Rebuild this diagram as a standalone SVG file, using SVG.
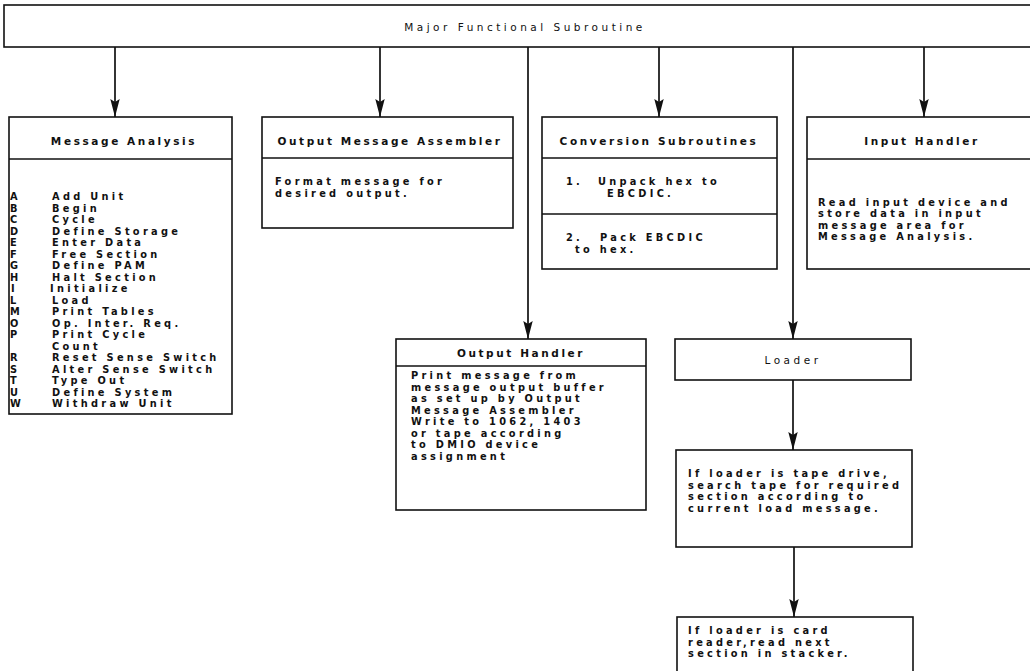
<svg xmlns="http://www.w3.org/2000/svg" width="1030" height="671" viewBox="0 0 1030 671">
<defs>
<marker id="ah" viewBox="0 0 18 10" refX="18" refY="5" markerWidth="18" markerHeight="10" markerUnits="userSpaceOnUse" orient="auto">
<path d="M0,0.3 L18,5 L0,9.7 L3,5 z" fill="#111"/>
</marker>
<style>
.box{fill:#fff;stroke:#111;stroke-width:1.6}
.sep{stroke:#111;stroke-width:1.4}
.con{fill:none;stroke:#111;stroke-width:1.7}
text{font-family:"DejaVu Sans","Liberation Sans",sans-serif;font-size:9.8px;font-weight:bold;letter-spacing:3.3px;fill:#111}
.c{text-anchor:middle;font-size:10.5px;letter-spacing:2.6px}
.n{font-weight:normal;letter-spacing:3.5px}
</style>
</defs>
<rect width="1030" height="671" fill="#fff"/>

<g id="connectors">
<line class="con" x1="115" y1="47" x2="115" y2="117" marker-end="url(#ah)"/>
<line class="con" x1="380" y1="47" x2="380" y2="117" marker-end="url(#ah)"/>
<line class="con" x1="659" y1="47" x2="659" y2="117" marker-end="url(#ah)"/>
<line class="con" x1="924" y1="47" x2="924" y2="117" marker-end="url(#ah)"/>
<line class="con" x1="528" y1="47" x2="528" y2="339" marker-end="url(#ah)"/>
<line class="con" x1="793" y1="47" x2="793" y2="339" marker-end="url(#ah)"/>
<line class="con" x1="793" y1="380" x2="793" y2="450" marker-end="url(#ah)"/>
<line class="con" x1="794" y1="547" x2="794" y2="617" marker-end="url(#ah)"/>
</g>

<g id="major">
<rect class="box" x="4" y="5" width="1030" height="42"/>
<text class="c n" x="525" y="31">Major Functional Subroutine</text>
</g>

<g id="message-analysis">
<rect class="box" x="9" y="117" width="223" height="297"/>
<line class="sep" x1="9" y1="159" x2="232" y2="159"/>
<text class="c" x="124" y="145">Message Analysis</text>
<text x="10" y="200">A</text><text x="52" y="200">Add Unit</text>
<text x="10" y="211.5">B</text><text x="52" y="211.5">Begin</text>
<text x="10" y="223">C</text><text x="52" y="223">Cycle</text>
<text x="10" y="234.5">D</text><text x="52" y="234.5">Define Storage</text>
<text x="10" y="246">E</text><text x="52" y="246">Enter Data</text>
<text x="10" y="257.5">F</text><text x="52" y="257.5">Free Section</text>
<text x="10" y="269">G</text><text x="52" y="269">Define PAM</text>
<text x="10" y="280.5">H</text><text x="52" y="280.5">Halt Section</text>
<text x="11" y="292">I</text><text x="50" y="292">Initialize</text>
<text x="10" y="303.5">L</text><text x="52" y="303.5">Load</text>
<text x="10" y="315">M</text><text x="52" y="315">Print Tables</text>
<text x="10" y="326.5">O</text><text x="52" y="326.5">Op. Inter. Req.</text>
<text x="10" y="338">P</text><text x="52" y="338">Print Cycle</text>
<text x="52" y="349.5">Count</text>
<text x="10" y="361">R</text><text x="52" y="361">Reset Sense Switch</text>
<text x="10" y="372.5">S</text><text x="52" y="372.5">Alter Sense Switch</text>
<text x="10" y="384">T</text><text x="52" y="384">Type Out</text>
<text x="10" y="395.5">U</text><text x="52" y="395.5">Define System</text>
<text x="10" y="407">W</text><text x="52" y="407">Withdraw Unit</text>
</g>

<g id="output-message-assembler">
<rect class="box" x="262" y="117" width="251" height="111"/>
<line class="sep" x1="262" y1="158" x2="513" y2="158"/>
<text class="c" x="390" y="145">Output Message Assembler</text>
<text x="275" y="185">Format message for</text>
<text x="275" y="197">desired output.</text>
</g>

<g id="conversion-subroutines">
<rect class="box" x="542" y="117" width="235" height="152"/>
<line class="sep" x1="542" y1="158" x2="777" y2="158"/>
<line class="sep" x1="542" y1="214" x2="777" y2="214"/>
<text class="c" x="659" y="145">Conversion Subroutines</text>
<text x="566" y="185">1.</text><text x="598" y="185">Unpack hex to</text>
<text x="607" y="196.5">EBCDIC.</text>
<text x="566" y="241">2.</text><text x="600" y="241">Pack EBCDIC</text>
<text x="575" y="252.5">to hex.</text>
</g>

<g id="input-handler">
<rect class="box" x="807" y="117" width="230" height="152"/>
<line class="sep" x1="807" y1="159" x2="1030" y2="159"/>
<text class="c" x="922" y="145">Input Handler</text>
<text x="818" y="205.5">Read input device and</text>
<text x="818" y="217">store data in input</text>
<text x="818" y="228.5">message area for</text>
<text x="818" y="240">Message Analysis.</text>
</g>

<g id="output-handler">
<rect class="box" x="396" y="339" width="250" height="171"/>
<line class="sep" x1="396" y1="366" x2="646" y2="366"/>
<text class="c" x="521" y="357">Output Handler</text>
<text x="411" y="379">Print message from</text>
<text x="411" y="390.5">message output buffer</text>
<text x="411" y="402">as set up by Output</text>
<text x="411" y="413.5">Message Assembler</text>
<text x="411" y="425">Write to 1062, 1403</text>
<text x="411" y="436.5">or tape according</text>
<text x="411" y="448">to DMIO device</text>
<text x="411" y="459.5">assignment</text>
</g>

<g id="loader">
<rect class="box" x="675" y="339" width="236" height="41"/>
<text class="c n" x="793" y="364">Loader</text>
</g>

<g id="tape-search">
<rect class="box" x="676" y="450" width="236" height="97"/>
<text x="688" y="477">If loader is tape drive,</text>
<text x="688" y="488.7">search tape for required</text>
<text x="688" y="500.4">section according to</text>
<text x="688" y="512.1">current load message.</text>
</g>

<g id="card-reader">
<rect class="box" x="677" y="617" width="236" height="70"/>
<text x="688" y="634">If loader is card</text>
<text x="688" y="645.5">reader,read next</text>
<text x="688" y="657">section in stacker.</text>
</g>
</svg>
